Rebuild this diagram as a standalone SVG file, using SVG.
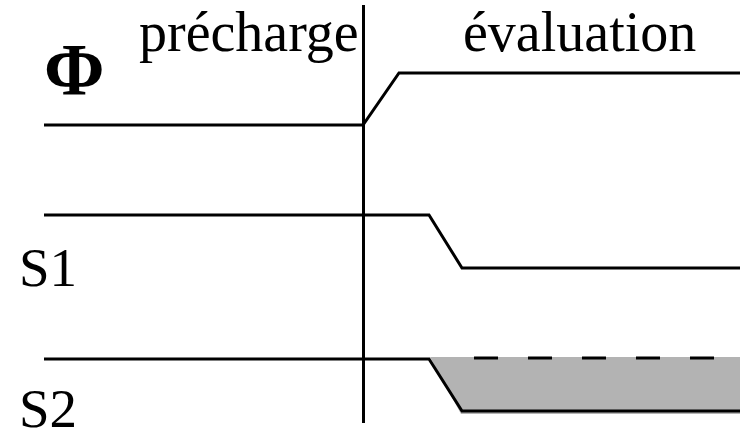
<svg xmlns="http://www.w3.org/2000/svg" width="740" height="440" viewBox="0 0 740 440">
<style>
.t{font-family:"Liberation Serif","Times New Roman",serif;fill:#000}
.w{fill:none;stroke:#000;stroke-width:3;stroke-linejoin:miter}
</style>
<rect width="740" height="440" fill="#fff"/>
<g id="shade"><polygon points="430,357 740,357 740,414 461,414" fill="#b3b3b3"/></g>
<g id="labels">
<text class="t" x="139" y="51" font-size="56">précharge</text>
<text class="t" x="463" y="51" font-size="56">évaluation</text>
<text class="t" x="44" y="95" font-size="73" font-weight="bold">Φ</text>
<text class="t" x="19" y="286" font-size="55">S1</text>
<text class="t" x="19" y="427" font-size="55">S2</text>
</g>
<g id="connectors">
<line class="w" x1="363.5" y1="5" x2="363.5" y2="423"/>
<polyline class="w" points="44,125 363,125 399,73 740,73"/>
<polyline class="w" points="44,215 429,215 462,268 740,268"/>
<polyline class="w" points="44,359 429,359 462,411 740,411"/>
<line class="w" x1="474" y1="358" x2="740" y2="358" stroke-dasharray="24 30"/>
</g>
</svg>
